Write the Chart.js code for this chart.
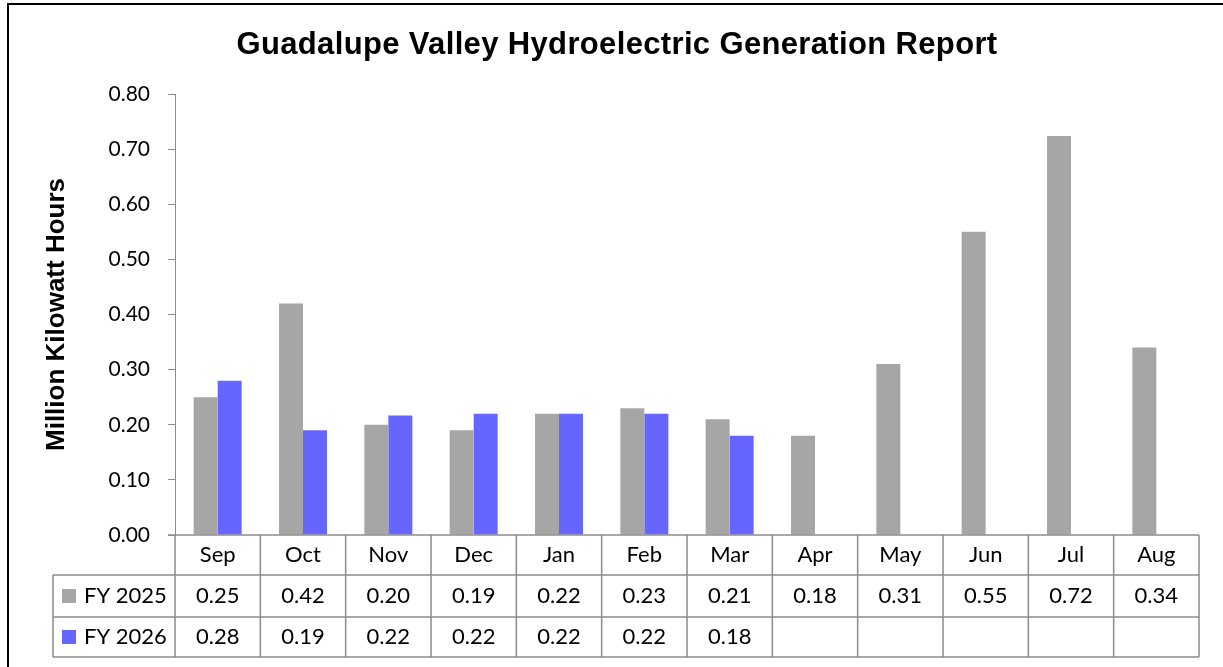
<!DOCTYPE html>
<html lang="en">
<head>
    <meta charset="UTF-8">
    <title>Guadalupe Valley Hydroelectric Generation Report</title>
    <style>
        body {
            margin: 0;
            background-color: #fff;
        }

        .frame {
            position: absolute;
            left: 7px;
            top: 3px;
            width: 1230px;
            height: 680px;
            border: 2px solid #000;
            pointer-events: none;
        }

        #chart {
            position: absolute;
            left: 0;
            top: 0;
        }
    </style>
</head>
<body>
    <canvas id="chart" width="1223" height="667"></canvas>
    <div class="frame"></div>

    <script src="https://cdn.jsdelivr.net/npm/chart.js"></script>
    <script>
        // Data
        var months = ['Sep', 'Oct', 'Nov', 'Dec', 'Jan', 'Feb', 'Mar', 'Apr', 'May', 'Jun', 'Jul', 'Aug'];
        var fy2025 = [0.25, 0.42, 0.20, 0.19, 0.22, 0.23, 0.21, 0.18, 0.31, 0.55, 0.724, 0.34];
        var fy2026 = [0.28, 0.19, 0.217, 0.22, 0.22, 0.22, 0.18, null, null, null, null, null];
        var seriesNames = ['FY 2025', 'FY 2026'];
        var seriesColors = ['#A6A6A6', '#6666FF'];
        var chartTitle = 'Guadalupe Valley Hydroelectric Generation Report';

        var labelFont = 'Lato, "Open Sans", sans-serif';
        var arialFont = '"Liberation Sans", Arial, sans-serif';
        var gridColor = '#8c8c8c';

        // Title (drawn here so it can sit slightly right of centre, like the original)
        var titlePlugin = {
            id: 'titlePlugin',
            afterDraw: function (chart) {
                var ctx = chart.ctx;
                ctx.save();
                ctx.fillStyle = '#000';
                ctx.font = 'bold 31px ' + arialFont;
                ctx.letterSpacing = '0.35px';
                ctx.textAlign = 'center';
                ctx.textBaseline = 'alphabetic';
                ctx.fillText(chartTitle, 617, 54);
                ctx.restore();
            }
        };

        // Excel-style data table under the plot, aligned to the category scale
        var dataTable = {
            id: 'dataTable',
            afterDraw: function (chart) {
                var ctx = chart.ctx;
                var x = chart.scales.x;
                var area = chart.chartArea;
                var half = (area.right - area.left) / months.length / 2;
                var rowTop = [area.bottom, 575, 617, 657];
                var legendLeft = 53;

                ctx.save();
                ctx.strokeStyle = gridColor;
                ctx.lineWidth = 1.5;

                // horizontal lines
                ctx.beginPath();
                ctx.moveTo(area.left - 7, rowTop[0]);
                ctx.lineTo(area.right, rowTop[0]);
                for (var r = 1; r < rowTop.length; r++) {
                    ctx.moveTo(legendLeft, rowTop[r]);
                    ctx.lineTo(area.right, rowTop[r]);
                }
                // vertical lines
                ctx.moveTo(legendLeft, rowTop[1]);
                ctx.lineTo(legendLeft, rowTop[3]);
                for (var i = 0; i < months.length; i++) {
                    var left = x.getPixelForValue(i) - half;
                    ctx.moveTo(left, rowTop[0]);
                    ctx.lineTo(left, rowTop[3]);
                }
                ctx.moveTo(area.right, rowTop[0]);
                ctx.lineTo(area.right, rowTop[3]);
                ctx.stroke();

                ctx.fillStyle = '#000';
                ctx.font = '22px ' + labelFont;
                ctx.textAlign = 'center';
                ctx.textBaseline = 'middle';

                months.forEach(function (m, i) {
                    ctx.fillText(m, x.getPixelForValue(i), (rowTop[0] + rowTop[1]) / 2);
                });

                [fy2025, fy2026].forEach(function (series, s) {
                    var mid = (rowTop[s + 1] + rowTop[s + 2]) / 2;
                    series.forEach(function (v, i) {
                        if (v !== null) {
                            ctx.fillText(v.toFixed(2), x.getPixelForValue(i), mid);
                        }
                    });
                    // legend key
                    ctx.fillStyle = seriesColors[s];
                    ctx.fillRect(62, mid - 7, 14, 14);
                    ctx.fillStyle = '#000';
                    ctx.textAlign = 'left';
                    ctx.fillText(seriesNames[s], 84, mid);
                    ctx.textAlign = 'center';
                });
                ctx.restore();
            }
        };

        var chart = new Chart(document.getElementById('chart'), {
            type: 'bar',
            data: {
                labels: months,
                datasets: [{
                    label: seriesNames[0],
                    data: fy2025,
                    backgroundColor: seriesColors[0]
                }, {
                    label: seriesNames[1],
                    data: fy2026,
                    backgroundColor: seriesColors[1]
                }]
            },
            options: {
                responsive: false,
                animation: false,
                datasets: {
                    bar: {
                        barPercentage: 1,
                        categoryPercentage: 0.5625
                    }
                },
                layout: {
                    padding: { left: 8, right: 24, top: 94, bottom: 132 }
                },
                plugins: {
                    legend: { display: false },
                    tooltip: { enabled: false },
                    title: { display: false }
                },
                scales: {
                    x: {
                        display: false
                    },
                    y: {
                        min: 0,
                        max: 0.8,
                        afterFit: function (scale) {
                            scale.width = 167;
                        },
                        ticks: {
                            stepSize: 0.1,
                            padding: 18,
                            color: '#000',
                            font: { family: labelFont, size: 21 },
                            callback: function (v) {
                                return v.toFixed(2);
                            }
                        },
                        grid: {
                            drawOnChartArea: false,
                            tickLength: 7,
                            color: gridColor
                        },
                        border: {
                            color: gridColor,
                            width: 1
                        },
                        title: {
                            display: true,
                            text: 'Million Kilowatt Hours',
                            color: '#000',
                            font: { family: arialFont, size: 26, weight: 'bold' },
                            padding: { top: 33, bottom: 0 }
                        }
                    }
                }
            },
            plugins: [dataTable, titlePlugin]
        });
    </script>
</body>
</html>
